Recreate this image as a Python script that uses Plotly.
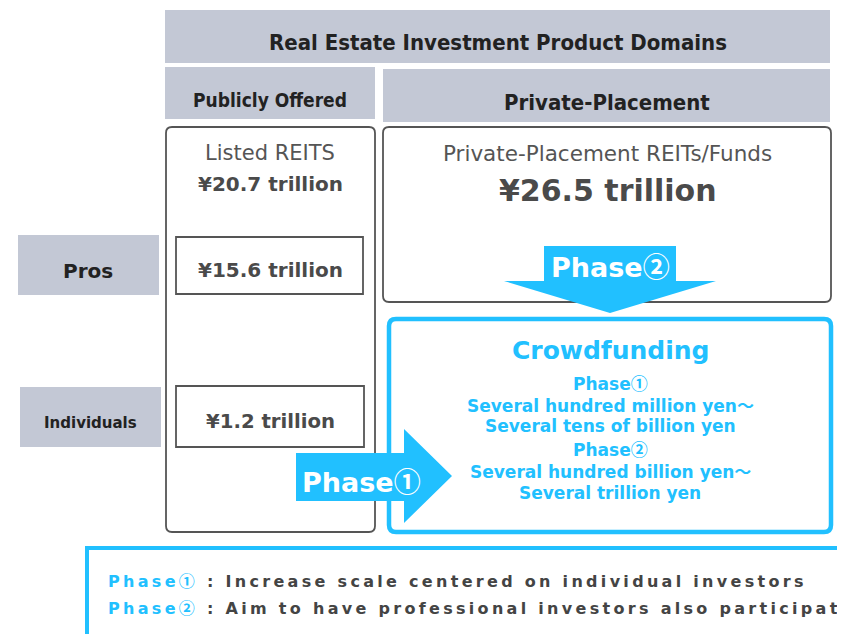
import plotly.graph_objects as go

# ---- data (text content of the diagram) ----
header_title = "Real Estate Investment Product Domains"
domain_labels = ["Publicly Offered", "Private-Placement"]
row_labels = ["Pros", "Individuals"]
listed_name = "Listed REITS"
listed_total = "¥20.7 trillion"
listed_split = ["¥15.6 trillion", "¥1.2 trillion"]
private_name = "Private-Placement REITs/Funds"
private_total = "¥26.5 trillion"
crowd_title = "Crowdfunding"
crowd_lines = ["Phase①", "Several hundred million yen～", "Several tens of billion yen",
               "Phase②", "Several hundred billion yen～", "Several trillion yen"]
phase_labels = ["Phase①", "Phase②"]
phase_notes = ["Increase scale centered on individual investors",
               "Aim to have professional investors also participate"]

W, H = 845, 634
OFF = 8  # page body margin
CYAN = "#21C0FF"
GRAY = "#C3C8D5"
DARK = "#222222"
MID = "#4a4a4a"
BORDER = "#555555"
FONT = "DejaVu Sans"
COND = "DejaVu Sans Condensed"
CJK = "Noto Sans CJK JP"

shapes = []
ann = []


def cjk(s):
    for ch in "①②～":
        s = s.replace(ch, f"<span style='font-family:\"{CJK}\"'>{ch}</span>")
    return s


def rect(x0, y0, x1, y1, fill=None, line=None, width=1.5):
    shapes.append(dict(type="rect", x0=x0, y0=y0, x1=x1, y1=y1, xref="x", yref="y",
                       fillcolor=fill or "rgba(0,0,0,0)",
                       line=dict(color=line or "rgba(0,0,0,0)", width=width if line else 0),
                       layer="below"))


def rrect(x0, y0, x1, y1, r, line, width, fill="white"):
    p = (f"M{x0+r},{y0} L{x1-r},{y0} Q{x1},{y0} {x1},{y0+r} L{x1},{y1-r} Q{x1},{y1} {x1-r},{y1} "
         f"L{x0+r},{y1} Q{x0},{y1} {x0},{y1-r} L{x0},{y0+r} Q{x0},{y0} {x0+r},{y0} Z")
    shapes.append(dict(type="path", path=p, xref="x", yref="y", fillcolor=fill,
                       line=dict(color=line, width=width), layer="below"))


def poly(pts, fill):
    p = "M" + " L".join(f"{x},{y}" for x, y in pts) + " Z"
    shapes.append(dict(type="path", path=p, xref="x", yref="y", fillcolor=fill,
                       line=dict(width=0), layer="above"))


def text(x, y, s, size, color, family=FONT, bold=True, xanchor="center"):
    s = cjk(s)
    ann.append(dict(x=x, y=y, xref="x", yref="y", text=f"<b>{s}</b>" if bold else s,
                    showarrow=False, xanchor=xanchor, yanchor="middle",
                    font=dict(size=size, color=color, family=family)))


# header boxes
rect(165, 10, 830, 63, fill=GRAY)
text(498, 42, header_title, 22, DARK, family=COND)
rect(165, 67, 375, 119, fill=GRAY)
text(270, 100, domain_labels[0], 19, DARK, family=COND)
rect(383, 69, 830, 122, fill=GRAY)
text(607, 102, domain_labels[1], 22, DARK, family=COND)

# row label boxes
rect(18, 235, 159, 295, fill=GRAY)
text(88, 271, row_labels[0], 20, DARK)
rect(20, 387, 161, 447, fill=GRAY)
text(90, 423, row_labels[1], 15, DARK)

# listed REITs column
rrect(166, 127, 375, 532, 6, BORDER, 1.8)
text(270, 153, listed_name, 21, "#555555", bold=False)
text(270, 184, listed_total, 20, MID)
rect(176, 237, 363, 294, fill="white", line=BORDER, width=1.8)
text(270, 270, listed_split[0], 20, MID)
rect(176, 386, 364, 447, fill="white", line=BORDER, width=1.8)
text(270, 421, listed_split[1], 19.7, MID)

# private placement box
rrect(383, 127, 831, 302, 6, BORDER, 1.8)
text(607, 153, private_name, 21.5, "#555555", bold=False)
text(608, 190, private_total, 30, MID)

# crowdfunding box
rrect(389, 319, 831, 532, 7, CYAN, 4.5)
text(610, 350, crowd_title, 25, CYAN)
for i, s in enumerate(crowd_lines):
    text(610, 382 + i * 22.2, s, 17, CYAN)

# phase 2 arrow (down)
poly([(544, 246), (676, 246), (676, 281), (716, 281), (610, 313), (504, 281), (544, 281)], CYAN)
text(610, 265, phase_labels[1], 27, "white")

# phase 1 arrow (right)
poly([(296, 453), (404, 453), (404, 429), (452, 476), (404, 523), (404, 501), (296, 501)], CYAN)
text(361, 480, phase_labels[0], 27, "white")

# bottom legend box
shapes.append(dict(type="rect", x0=87, y0=548, x1=860, y1=650, xref="x", yref="y",
                   fillcolor="white", line=dict(color=CYAN, width=4), layer="below"))
for i, (lab, note) in enumerate(zip(phase_labels, phase_notes)):
    s = (f"<span style='letter-spacing:3.3px'><b><span style='color:{CYAN}'>{cjk(lab)}</span>"
         f"<span style='color:#444444'> : {note}</span></b></span>")
    ann.append(dict(x=106, y=580 + i * 27, xref="x", yref="y", text=s, showarrow=False,
                    xanchor="left", yanchor="middle",
                    font=dict(size=16, color="#444444", family=FONT)))

fig = go.Figure()
fig.update_layout(
    width=W - OFF, height=H - OFF, margin=dict(l=0, r=0, t=0, b=0),
    paper_bgcolor="white", plot_bgcolor="white",
    xaxis=dict(range=[OFF, W], visible=False, fixedrange=True),
    yaxis=dict(range=[H, OFF], visible=False, fixedrange=True),
    shapes=shapes, annotations=ann, showlegend=False,
)
fig.write_html("out.html")
